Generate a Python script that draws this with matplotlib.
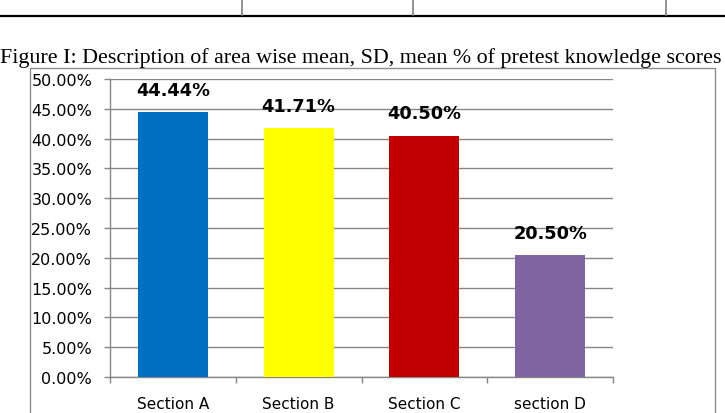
import matplotlib
matplotlib.use("Agg")
import matplotlib.pyplot as plt
from matplotlib.lines import Line2D
from matplotlib.ticker import FixedLocator, FuncFormatter

# Data
sections = ["Section A", "Section B", "Section C", "section D"]
mean_pct = [44.44, 41.71, 40.50, 20.50]
bar_colors = ["#0070C0", "#FFFF00", "#C00000", "#8064A2"]
y_ticks = [0, 5, 10, 15, 20, 25, 30, 35, 40, 45, 50]

title = "Figure I: Description of area wise mean, SD, mean % of pretest knowledge scores"

W, H = 725, 414
GRID = "#868686"

plt.rcParams["font.family"] = "DejaVu Sans"

fig = plt.figure(figsize=(W / 100, H / 100), dpi=100)


def fx(px):
    return px / W


def fy(py):
    return 1 - py / H


# remnant of the table above the figure
fig.add_artist(Line2D([0, 1], [fy(17), fy(17)], color="black", lw=1.6,
                      transform=fig.transFigure))
for x in (242, 413, 666):
    fig.add_artist(Line2D([fx(x), fx(x)], [fy(0), fy(16)], color="#7f7f7f", lw=1.2,
                          transform=fig.transFigure))

fig.text(fx(361), fy(58), title, ha="center", va="center",
         family="Liberation Serif", fontsize=15.8)

# chart border
fig.add_artist(Line2D([fx(30), fx(30), fx(715), fx(715)],
                      [0, fy(69), fy(69), 0], color="#8c8c8c", lw=1.0,
                      transform=fig.transFigure))

ax = fig.add_axes([fx(110), fy(378), fx(613) - fx(110), (378 - 80) / H])

xs = [i + 0.5 for i in range(len(sections))]
ax.bar(xs, mean_pct, width=0.557, color=bar_colors, zorder=3)

for x, v in zip(xs, mean_pct):
    ax.annotate(f"{v:.2f}%", (x, v), xytext=(0, 16), textcoords="offset points",
                ha="center", va="center", fontsize=12.8, fontweight="bold", zorder=4)

ax.set_xlim(0, len(sections))
ax.set_ylim(0, 50)
ax.yaxis.set_major_locator(FixedLocator(y_ticks))
ax.yaxis.set_major_formatter(FuncFormatter(lambda v, _: f"{v:.2f}%"))
ax.grid(axis="y", color=GRID, lw=1.0, zorder=0)

ax.set_xticks(range(len(sections) + 1))
ax.set_xticklabels([])
ax.set_xticks(xs, minor=True)
ax.set_xticklabels(sections, minor=True, fontsize=11)
ax.tick_params(axis="x", which="major", length=4.3, width=1, color=GRID, direction="out")
ax.tick_params(axis="x", which="minor", length=0, pad=14)
ax.tick_params(axis="y", length=4.3, width=1, color=GRID, labelsize=11.5, pad=8.5)

for side in ("top", "right"):
    ax.spines[side].set_visible(False)
for side in ("left", "bottom"):
    ax.spines[side].set_color(GRID)
    ax.spines[side].set_linewidth(1.0)

fig.savefig("out.png", dpi=100)
